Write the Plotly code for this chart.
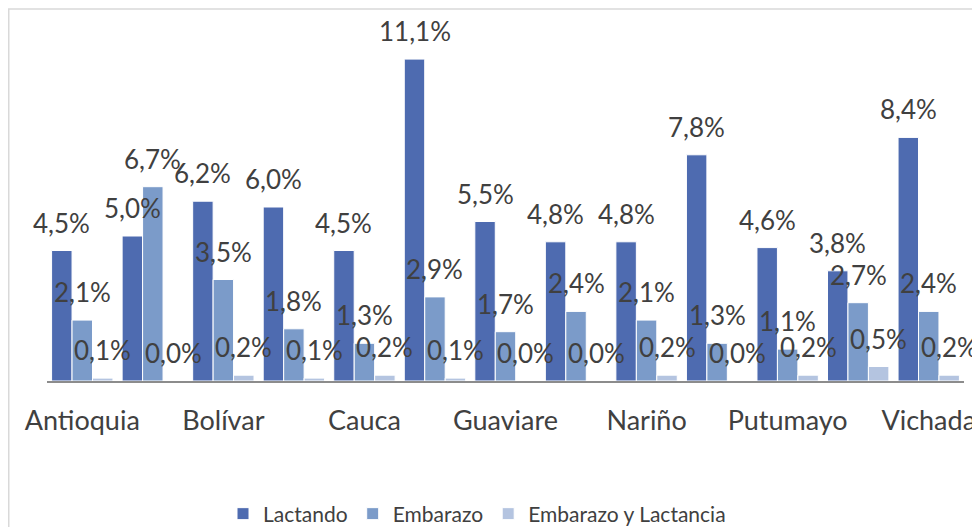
import plotly.graph_objects as go

categories = ["Antioquia", "Arauca", "Bolívar", "Caquetá", "Cauca", "Chocó", "Guaviare",
              "La Guajira", "Nariño", "Norte de Santander", "Putumayo", "Vaupés", "Vichada"]
tick_labels = ["Antioquia", "Bolívar", "Cauca", "Guaviare", "Nariño", "Putumayo", "Vichada"]
series_names = ["Lactando", "Embarazo", "Embarazo y Lactancia"]
lactando = [4.5, 5.0, 6.2, 6.0, 4.5, 11.1, 5.5, 4.8, 4.8, 7.8, 4.6, 3.8, 8.4]
embarazo = [2.1, 6.7, 3.5, 1.8, 1.3, 2.9, 1.7, 2.4, 2.1, 1.3, 1.1, 2.7, 2.4]
emb_lact = [0.1, 0.0, 0.2, 0.1, 0.2, 0.1, 0.0, 0.0, 0.2, 0.0, 0.2, 0.5, 0.2]

colors = ["#4E6BB0", "#7B9BC9", "#B4C4E0"]
FONT = "Lato"
TEXT_COLOR = "#404040"
BARGAP = 0.13

fig = go.Figure()
all_series = [lactando, embarazo, emb_lact]
for name, vals, col in zip(series_names, all_series, colors):
    fig.add_trace(go.Bar(
        x=categories, y=vals, name=name,
        marker=dict(color=col, line=dict(color="white", width=1)),
        hoverinfo="skip",
    ))

# data labels as annotations placed through the axes (drawn above all bars)
n = len(all_series)
w = (1 - BARGAP) / n
for i, vals in enumerate(all_series):
    for j, v in enumerate(vals):
        fig.add_annotation(
            x=j + (i - (n - 1) / 2) * w, y=v, xref="x", yref="y",
            text=f"{v:.1f}%".replace(".", ","), showarrow=False,
            yanchor="bottom", xanchor="center", yshift=10,
            font=dict(family=FONT, size=26, color=TEXT_COLOR),
        )

# the page places the figure 8px from the window's top-left corner
W, H = 972, 519
L, R, T, B = 39, 16, 25, 146
pw, ph = W - L - R, H - T - B

fig.add_shape(type="rect", xref="paper", yref="paper",
              x0=-(L - 0.75) / pw, x1=1 + (R + 5) / pw,
              y0=-(B + 5) / ph, y1=1 + (T - 1) / ph,
              line=dict(color="#D9D9D9", width=1.5), fillcolor="rgba(0,0,0,0)", layer="below")

fig.update_layout(
    width=W, height=H,
    margin=dict(l=L, r=R, t=T, b=B, autoexpand=False),
    paper_bgcolor="white", plot_bgcolor="white",
    barmode="group", bargap=BARGAP, bargroupgap=0,
    font=dict(family=FONT, color=TEXT_COLOR),
    xaxis=dict(
        type="category", categoryorder="array", categoryarray=categories,
        range=[-0.5, len(categories) - 0.5], autorange=False,
        tickmode="array", tickvals=tick_labels, ticktext=tick_labels,
        showline=True, linecolor="#8C8C8C", linewidth=2, ticks="",
        tickfont=dict(family=FONT, size=27, color=TEXT_COLOR),
        ticklabelstandoff=15, showgrid=False, zeroline=False,
    ),
    yaxis=dict(range=[0, 12], autorange=False, visible=False, showgrid=False, zeroline=False),
    legend=dict(orientation="h", x=(215 - L) / pw, xanchor="left",
                y=-(506 - (H - B)) / ph, yanchor="middle", bgcolor="rgba(0,0,0,0)",
                font=dict(family=FONT, size=21, color=TEXT_COLOR), itemwidth=30),
    showlegend=True,
)

fig.write_html("out.html")
